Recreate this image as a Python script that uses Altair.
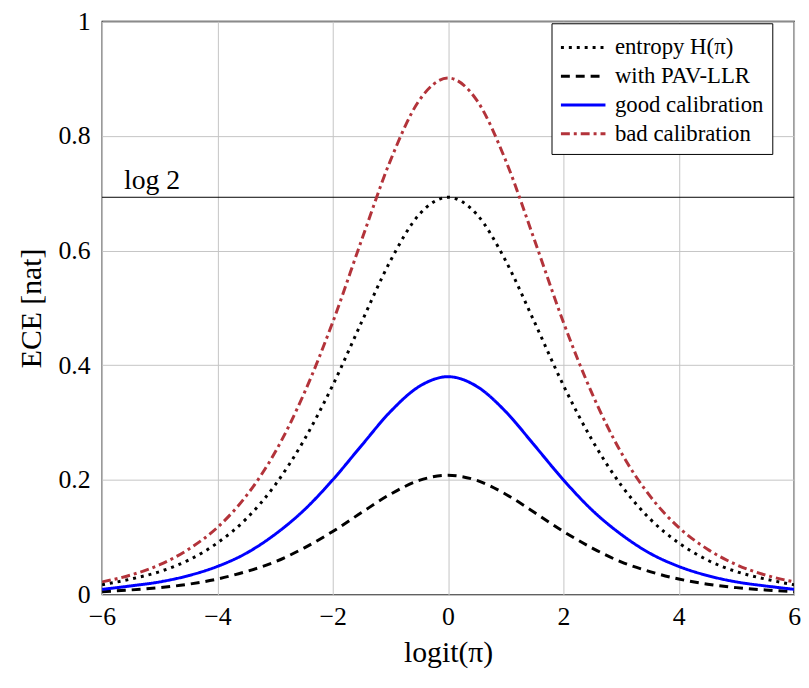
import altair as alt
import pandas as pd

# logit(pi) positions (read at 0.5 steps, symmetric curves)
x_vals = [-6, -5.5, -5, -4.5, -4, -3.5, -3, -2.5, -2, -1.5, -1, -0.5, 0,
          0.5, 1, 1.5, 2, 2.5, 3, 3.5, 4, 4.5, 5, 5.5, 6]

entropy_half = [0.693, 0.663, 0.582, 0.475, 0.365, 0.269, 0.191, 0.132, 0.090, 0.060, 0.040, 0.027, 0.017]
pav_half = [0.208, 0.199, 0.175, 0.143, 0.110, 0.081, 0.057, 0.040, 0.027, 0.018, 0.012, 0.008, 0.005]
good_half = [0.380, 0.363, 0.319, 0.260, 0.200, 0.147, 0.105, 0.072, 0.049, 0.033, 0.022, 0.015, 0.009]
bad_half = [0.901, 0.862, 0.757, 0.618, 0.475, 0.350, 0.248, 0.172, 0.117, 0.079, 0.052, 0.034, 0.022]

series_names = ["entropy H(π)", "with PAV-LLR", "good calibration", "bad calibration"]
series_colors = ["#000000", "#000000", "#0000ff", "#b3333a"]
series_dashes = [[3, 5], [9, 6], [1, 0], [9, 4, 3, 4]]

LOG2 = 0.693


def full(half):
    return half[::-1] + half[1:]


rows = []
for name, half in zip(series_names, [entropy_half, pav_half, good_half, bad_half]):
    for x, y in zip(x_vals, full(half)):
        rows.append({"x": x, "y": y, "series": name})
df = pd.DataFrame(rows)

FONT = "Liberation Serif"

xscale = alt.Scale(domain=[-6, 6], nice=False)
yscale = alt.Scale(domain=[0, 1], nice=False)

lines = alt.Chart(df).mark_line(strokeWidth=3, interpolate="monotone", clip=True).encode(
    x=alt.X("x:Q", scale=xscale,
            axis=alt.Axis(values=[-6, -4, -2, 0, 2, 4, 6], title="logit(π)", format="d",
                          labelFlush=False)),
    y=alt.Y("y:Q", scale=yscale,
            axis=alt.Axis(values=[0, 0.2, 0.4, 0.6, 0.8, 1], title="ECE [nat]", format=".1~f")),
    color=alt.Color("series:N", sort=series_names,
                    scale=alt.Scale(domain=series_names, range=series_colors),
                    legend=alt.Legend(title=None, orient="none", legendX=454, legendY=2,
                                      symbolType="M-1,0H2", symbolSize=900, symbolStrokeWidth=3,
                                      labelFontSize=23, labelFont=FONT, rowPadding=0,
                                      padding=8, strokeColor="#000000", fillColor="white",
                                      cornerRadius=0, labelOffset=23)),
    strokeDash=alt.StrokeDash("series:N", sort=series_names,
                              scale=alt.Scale(domain=series_names, range=series_dashes),
                              legend=None),
    order=alt.Order("x:Q"),
)

ref = pd.DataFrame({"y": [LOG2], "x": [-5.62], "label": ["log 2"]})
rule = alt.Chart(ref).mark_rule(color="black", strokeWidth=1).encode(y=alt.Y("y:Q", scale=yscale))
text = alt.Chart(ref).mark_text(align="left", baseline="alphabetic", dy=-8, fontSize=28, font=FONT).encode(
    x=alt.X("x:Q", scale=xscale), y=alt.Y("y:Q", scale=yscale), text="label:N")

chart = alt.layer(rule, lines, text).properties(
    width=699, height=579,
    autosize=alt.AutoSizeParams(type="none"),
    padding={"left": 95, "top": 10, "right": 7, "bottom": 91},
).configure_view(stroke="black", strokeWidth=1.3).configure_axis(
    domain=False, ticks=False, grid=True, gridColor="#c4c4c4", gridWidth=1,
    labelFont=FONT, labelFontSize=26, labelColor="black",
    titleFont=FONT, titleFontSize=30, titleFontWeight="normal", titleColor="black",
).configure_axisX(labelPadding=9, titlePadding=9).configure_axisY(labelPadding=12, titlePadding=12)

chart.save("out.html", embed_options={"renderer": "svg", "actions": False})
